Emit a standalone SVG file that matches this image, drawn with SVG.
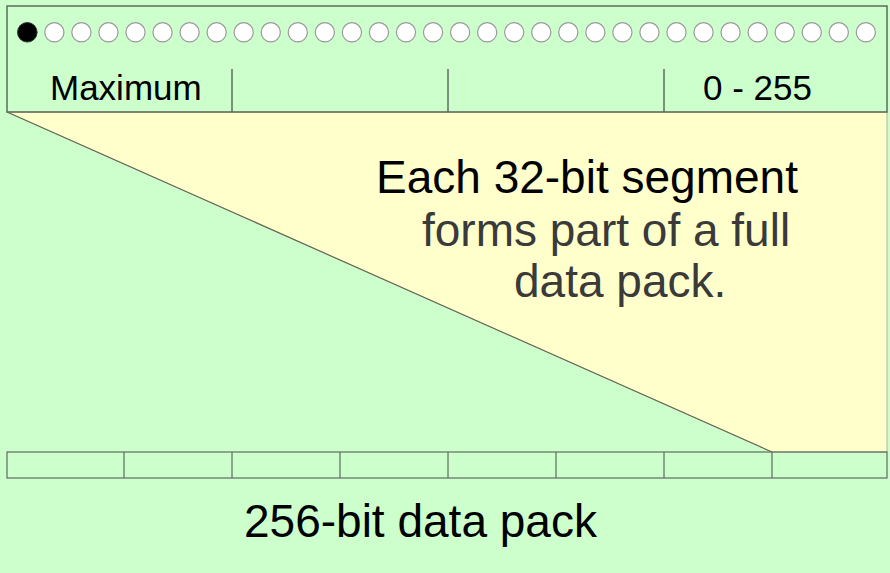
<svg xmlns="http://www.w3.org/2000/svg" width="890" height="573" viewBox="0 0 890 573">
  <style>
    .frame { fill: none; stroke: #5f6b5f; stroke-width: 1.5; }
    .cell { fill: none; stroke: #5f6b5f; stroke-width: 1.2; }
    .bit { fill: #ffffff; stroke: #9a9a9a; stroke-width: 1.2; }
    .bit-on { fill: #000000; stroke: #333333; stroke-width: 1; }
    .label { font-family: "Liberation Sans", Arial, sans-serif; fill: #000000; }
    .small { font-size: 35px; }
    .big { font-size: 46px; }
    .grey { fill: #3a3a3a; }
  </style>
  <defs>
    <circle id="bitdot" r="9.6" class="bit"/>
  </defs>

  <!-- page background -->
  <rect x="0" y="0" width="890" height="573" fill="#ccffcc"/>

  <!-- expanded segment wedge -->
  <g id="segment-wedge">
    <polygon points="7,112 887,112 887,452 772,452" fill="#ffffcc" stroke="#b5b59a" stroke-width="1"/>
    <text class="label big" x="376" y="193">Each 32-bit segment</text>
    <text class="label big grey" x="422" y="246">forms part of a full</text>
    <text class="label big grey" x="514" y="297">data pack.</text>
  </g>

  <!-- 32-bit register -->
  <g id="register-32">
    <rect x="7" y="6" width="880" height="106" fill="#ccffcc" class="frame"/>
    <circle cx="27.3" cy="32.3" r="9.8" class="bit-on"/>
    <use href="#bitdot" x="54.35" y="32.3"/>
    <use href="#bitdot" x="81.4" y="32.3"/>
    <use href="#bitdot" x="108.45" y="32.3"/>
    <use href="#bitdot" x="135.5" y="32.3"/>
    <use href="#bitdot" x="162.55" y="32.3"/>
    <use href="#bitdot" x="189.6" y="32.3"/>
    <use href="#bitdot" x="216.65" y="32.3"/>
    <use href="#bitdot" x="243.7" y="32.3"/>
    <use href="#bitdot" x="270.75" y="32.3"/>
    <use href="#bitdot" x="297.8" y="32.3"/>
    <use href="#bitdot" x="324.85" y="32.3"/>
    <use href="#bitdot" x="351.9" y="32.3"/>
    <use href="#bitdot" x="378.95" y="32.3"/>
    <use href="#bitdot" x="406" y="32.3"/>
    <use href="#bitdot" x="433.05" y="32.3"/>
    <use href="#bitdot" x="460.1" y="32.3"/>
    <use href="#bitdot" x="487.15" y="32.3"/>
    <use href="#bitdot" x="514.2" y="32.3"/>
    <use href="#bitdot" x="541.25" y="32.3"/>
    <use href="#bitdot" x="568.3" y="32.3"/>
    <use href="#bitdot" x="595.35" y="32.3"/>
    <use href="#bitdot" x="622.4" y="32.3"/>
    <use href="#bitdot" x="649.45" y="32.3"/>
    <use href="#bitdot" x="676.5" y="32.3"/>
    <use href="#bitdot" x="703.55" y="32.3"/>
    <use href="#bitdot" x="730.6" y="32.3"/>
    <use href="#bitdot" x="757.65" y="32.3"/>
    <use href="#bitdot" x="784.7" y="32.3"/>
    <use href="#bitdot" x="811.75" y="32.3"/>
    <use href="#bitdot" x="838.8" y="32.3"/>
    <use href="#bitdot" x="865.85" y="32.3"/>
    <line x1="232" y1="69" x2="232" y2="112" class="frame"/>
    <line x1="448" y1="69" x2="448" y2="112" class="frame"/>
    <line x1="664" y1="69" x2="664" y2="112" class="frame"/>
    <text class="label small" x="50" y="100">Maximum</text>
    <text class="label small" x="703" y="100">0 - 255</text>
  </g>

  <!-- 256-bit data pack -->
  <g id="data-pack-256">
    <rect x="7" y="452" width="880" height="26" class="cell"/>
    <line x1="124" y1="452" x2="124" y2="478" class="cell"/>
    <line x1="232" y1="452" x2="232" y2="478" class="cell"/>
    <line x1="340" y1="452" x2="340" y2="478" class="cell"/>
    <line x1="448" y1="452" x2="448" y2="478" class="cell"/>
    <line x1="556" y1="452" x2="556" y2="478" class="cell"/>
    <line x1="664" y1="452" x2="664" y2="478" class="cell"/>
    <line x1="772" y1="452" x2="772" y2="478" class="cell"/>
    <text class="label big" x="244" y="537">256-bit data pack</text>
  </g>

  <!-- connectors -->
  <g id="connectors">
    <line x1="7" y1="112" x2="772" y2="452" stroke="#6b6b5a" stroke-width="1.2"/>
  </g>
</svg>
